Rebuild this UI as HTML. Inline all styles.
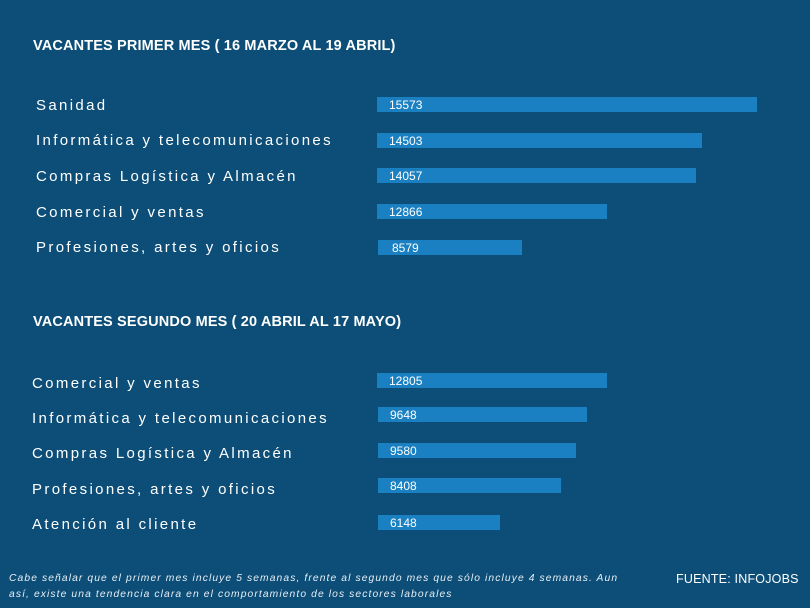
<!DOCTYPE html>
<html><head><meta charset="utf-8"><style>
body{margin:0;width:810px;height:608px;background:#0c4e77;font-family:"Liberation Sans",sans-serif;color:#fff;position:relative;overflow:hidden}
.t{position:absolute;font-weight:bold;font-size:14.5px;letter-spacing:.15px}
.l{position:absolute;font-size:15px;letter-spacing:2.35px}
.b{position:absolute;height:15px;background:#1a80c1;font-size:12px;line-height:16px;box-sizing:border-box;padding-left:12px}
.n{position:absolute;font-size:10.3px;font-style:italic;letter-spacing:1.1px;line-height:16px;left:9px;top:571px;width:625px;color:#e8eef4}
</style></head><body>
<div class="t" style="left:33px;top:38px">VACANTES PRIMER MES ( 16 MARZO AL 19 ABRIL)</div>
<div class="l" style="left:36px;top:97px">Sanidad</div>
<div class="l" style="left:36px;top:132px">Informática y telecomunicaciones</div>
<div class="l" style="left:36px;top:168px">Compras Logística y Almacén</div>
<div class="l" style="left:36px;top:204px">Comercial y ventas</div>
<div class="l" style="left:36px;top:239px">Profesiones, artes y oficios</div>
<div class="b" style="left:377px;top:97px;width:380px">15573</div>
<div class="b" style="left:377px;top:133px;width:325px">14503</div>
<div class="b" style="left:377px;top:168px;width:319px">14057</div>
<div class="b" style="left:377px;top:204px;width:230px">12866</div>
<div class="b" style="left:378px;top:240px;width:144px;padding-left:14px">8579</div>
<div class="t" style="left:33px;top:314px">VACANTES SEGUNDO MES ( 20 ABRIL AL 17 MAYO)</div>
<div class="l" style="left:32px;top:375px">Comercial y ventas</div>
<div class="l" style="left:32px;top:410px">Informática y telecomunicaciones</div>
<div class="l" style="left:32px;top:445px">Compras Logística y Almacén</div>
<div class="l" style="left:32px;top:481px">Profesiones, artes y oficios</div>
<div class="l" style="left:32px;top:516px">Atención al cliente</div>
<div class="b" style="left:377px;top:373px;width:230px">12805</div>
<div class="b" style="left:378px;top:407px;width:209px">9648</div>
<div class="b" style="left:378px;top:443px;width:198px">9580</div>
<div class="b" style="left:378px;top:478px;width:183px">8408</div>
<div class="b" style="left:378px;top:515px;width:122px">6148</div>
<div class="n">Cabe señalar que el primer mes incluye 5 semanas, frente al segundo mes que sólo incluye 4 semanas. Aun así, existe una tendencia clara en el comportamiento de los sectores laborales</div>
<div style="position:absolute;left:676px;top:572px;font-size:12.5px;letter-spacing:.2px">FUENTE: INFOJOBS</div>
</body></html>
